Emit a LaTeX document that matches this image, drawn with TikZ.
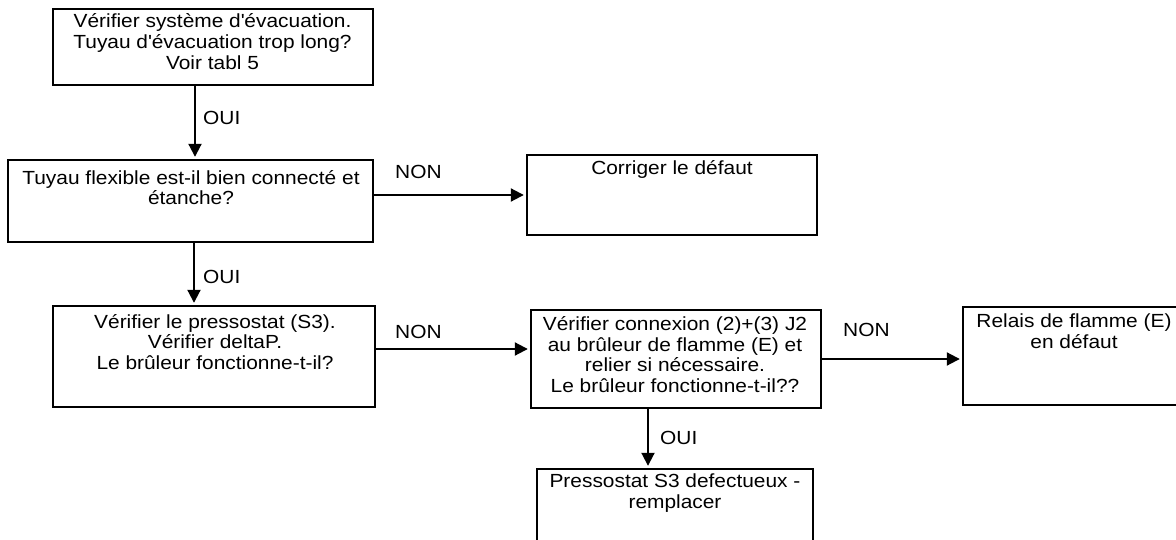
\documentclass[tikz,border=0pt]{standalone}
\usepackage{fontspec}
\setmainfont{Liberation Sans}[FakeStretch=1.1]
\usetikzlibrary{arrows.meta}
\newcommand{\myTopStrut}{\rule{0pt}{15pt}}
\begin{document}
\begin{tikzpicture}[x=1pt,y=-1pt,
  box/.style={draw=black, line width=2.4pt, inner sep=0pt, rectangle},
  txt/.style={align=center, inner sep=0pt, anchor=north, font=\fontsize{19}{20.8}\selectfont, text=black},
  lbl/.style={inner sep=0pt, anchor=west, font=\fontsize{19}{20.8}\selectfont, text=black},
  arr/.style={line width=2pt, shorten >=2pt, -{Triangle[length=13pt,width=13pt]}}]
\clip (0,0) rectangle (1176,540);
\fill[white] (0,0) rectangle (1176,540);
% boxes
\node[box, minimum width=320pt, minimum height=76pt] (b1) at (213,47) {};
\node[box, minimum width=365pt, minimum height=82pt] (b2) at (190.5,201) {};
\node[box, minimum width=290pt, minimum height=80pt] (bc) at (672,195) {};
\node[box, minimum width=322pt, minimum height=101pt] (b3) at (214,356.5) {};
\node[box, minimum width=290pt, minimum height=98pt] (b4) at (676,359) {};
\node[box, minimum width=222pt, minimum height=98pt] (b5) at (1074,356) {};
\node[box, minimum width=276pt, minimum height=85pt] (b6) at (675,511.5) {};
% texts
\node[txt] (t1) at (212.5,12.5) {\myTopStrut V\'erifier syst\`eme d\textquotesingle \'evacuation.\\Tuyau d\textquotesingle \'evacuation trop long?\\Voir tabl 5};
\node[txt] (t2) at (191,169) {\myTopStrut Tuyau flexible est-il bien connect\'e et\\\'etanche?};
\node[txt] (tc) at (672,159) {\myTopStrut Corriger le d\'efaut};
\node[txt] (t3) at (215,313) {\myTopStrut V\'erifier le pressostat (S3).\\V\'erifier deltaP.\\Le br\^uleur fonctionne-t-il?};
\node[txt] (t4) at (675,315) {\myTopStrut V\'erifier connexion (2)+(3) J2\\au br\^uleur de flamme (E) et\\relier si n\'ecessaire.\\Le br\^uleur fonctionne-t-il??};
\node[txt] (t5) at (1074,312) {\myTopStrut Relais de flamme (E)\\en d\'efaut};
\node[txt] (t6) at (675,472) {\myTopStrut Pressostat S3 defectueux -\\remplacer};
% connectors
\draw[arr] ([xshift=-18pt]b1.south) -- ([xshift=-18pt]b1.south |- b2.north);
\node[lbl] (l1) at (203,118) {OUI};
\draw[arr] (b2.east |- bc.west) -- (bc.west);
\node[lbl] (l2) at (395,172) {NON};
\draw[arr] ([xshift=3.5pt]b2.south) -- ([xshift=3.5pt]b2.south |- b3.north);
\node[lbl] (l3) at (203,277) {OUI};
\draw[arr] ([yshift=7.5pt]b3.east) -- ([yshift=7.5pt]b3.east -| b4.west);
\node[lbl] (l4) at (395,332) {NON};
\draw[arr] (b4.east) -- (b4.east -| b5.west);
\node[lbl] (l5) at (843,330) {NON};
\draw[arr] ([xshift=-28pt]b4.south) -- ([xshift=-28pt]b4.south |- b6.north);
\node[lbl] (l6) at (660,438) {OUI};
\end{tikzpicture}
\end{document}
